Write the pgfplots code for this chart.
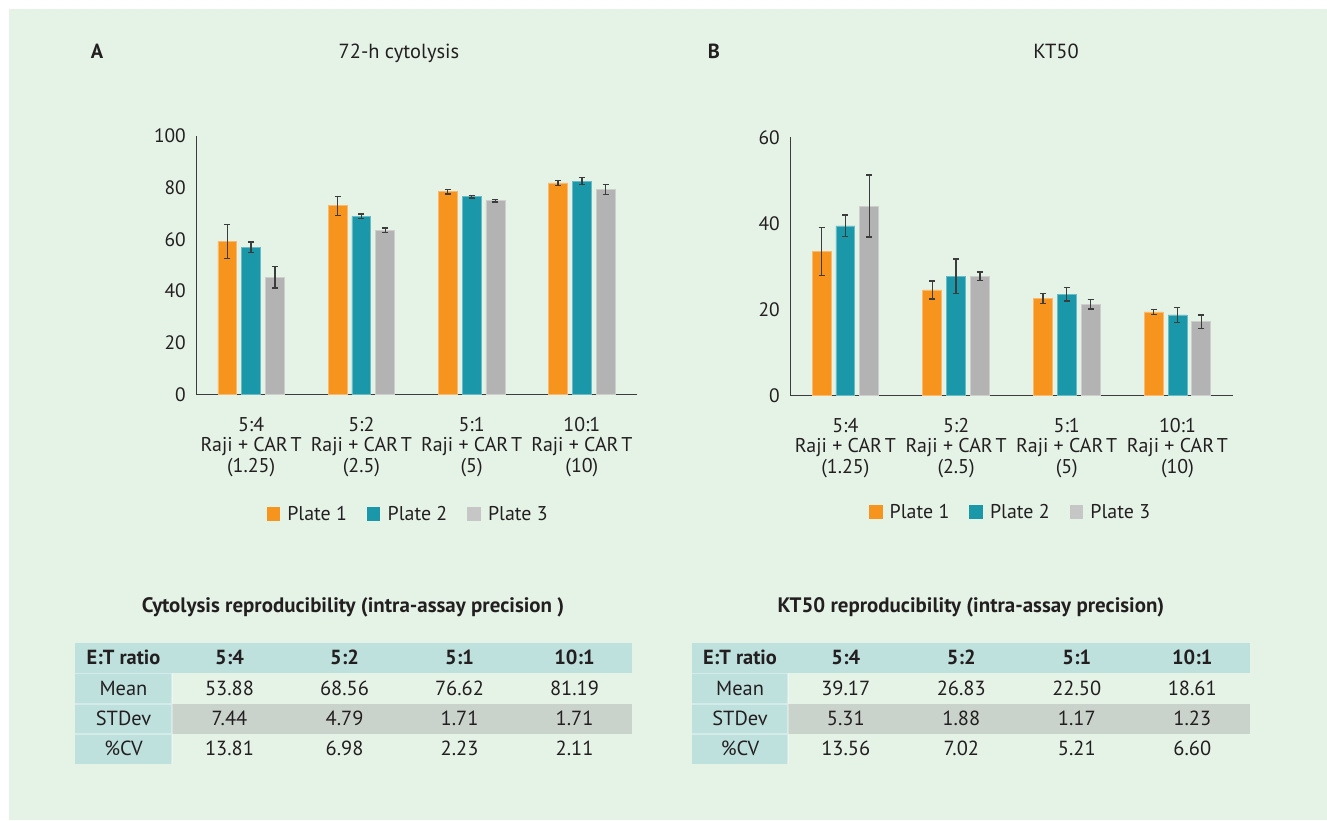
\documentclass[border=0pt]{standalone}
\usepackage{pgfplots}
\pgfplotsset{compat=1.18}
\usepackage{pgfplotstable}
\usepackage{fontspec}
\setmainfont{PT Sans}
\definecolor{bg}{HTML}{E5F3E7}
\definecolor{porange}{HTML}{F7941E}
\definecolor{pteal}{HTML}{1A97A8}
\definecolor{pgray}{HTML}{B2B3B2}
\definecolor{hdr}{HTML}{BEE1DE}
\definecolor{rowgray}{HTML}{C9D3CC}
\definecolor{txt}{HTML}{231F20}
\definecolor{axcol}{HTML}{3C3C3C}
\newcommand\fs{\fontsize{20}{20.5}\selectfont}
\newcommand\fy{\fontsize{19.5}{20.5}\selectfont}
\newcommand\ft{\fontsize{20.5}{22}\selectfont}
\newcommand\ftt{\fontsize{21}{22}\selectfont}
\newcommand\cart{Raji + CAR\hspace{0.14em}T}

\pgfplotstableread{
x y e
0 59.1 6.6
1 73.0 3.7
2 78.4 0.85
3 81.8 1.1
}\cytA
\pgfplotstableread{
x y e
0 56.9 2.0
1 68.9 0.9
2 76.5 0.5
3 82.5 1.3
}\cytB
\pgfplotstableread{
x y e
0 45.3 4.2
1 63.5 0.9
2 75.0 0.5
3 79.2 1.9
}\cytC
\pgfplotstableread{
x y e
0 33.4 5.6
1 24.5 2.1
2 22.5 1.15
3 19.4 0.55
}\ktA
\pgfplotstableread{
x y e
0 39.4 2.5
1 27.7 4.0
2 23.5 1.55
3 18.7 1.75
}\ktB
\pgfplotstableread{
x y e
0 44.0 7.2
1 27.7 1.0
2 21.2 1.1
3 17.1 1.55
}\ktC

\pgfplotsset{
  barchart/.style={
    scale only axis, ybar=4.9bp, bar width=18.9bp,
    ymin=0, xmin=-0.5, xmax=3.5, enlargelimits=false,
    axis x line*=bottom, axis y line*=left,
    axis line style={-, draw=axcol, line width=1bp},
    major tick length=0pt, minor tick num=0,
    xtick={0,1,2,3},
    xticklabels={{5:4\\\cart\\(1.25)},{5:2\\\cart\\(2.5)},{5:1\\\cart\\(5)},{10:1\\\cart\\(10)}},
    xticklabel style={align=center, font=\fs, text=txt, inner sep=0pt, anchor=north, yshift=-22.5bp},
    yticklabel style={font=\fy, text=txt, inner sep=0pt, anchor=east, xshift=-10bp},
    /pgf/number format/assume math mode=true,
    legend columns=3,
    legend style={draw=none, fill=none, font=\fs, text=txt,
      /tikz/every even column/.append style={column sep=19bp},
      nodes={inner sep=1bp}},
    legend cell align=left,
    error bars/y dir=both, error bars/y explicit,
    error bars/error bar style={line width=1.3bp, draw=axcol},
    error bars/error mark options={rotate=90, mark size=3bp, line width=1.3bp, draw=axcol},
  },
}

\begin{document}
\begin{tikzpicture}[x=1bp,y=1bp]
\fill[white] (0,0) rectangle (1327,820);
\fill[bg] (9,0) rectangle (1327,811);

% titles
\node[anchor=base, font=\ft\bfseries, text=txt] at (97,761) {A};
\node[anchor=base, font=\ft, text=txt] at (399,761) {72-h cytolysis};
\node[anchor=base, font=\ft\bfseries, text=txt] at (714,761) {B};
\node[anchor=base, font=\ft, text=txt] at (1056,761) {KT50};

% chart A
\begin{axis}[barchart, at={(196bp,425.7bp)}, anchor=south west,
  width=441bp, height=258.3bp, ymax=100, ytick={0,20,40,60,80,100},
  legend style={at={(0.48,-0.463)}, anchor=center}]
\addplot[fill=porange, draw=porange!65!white, line width=0.7bp, legend image code/.code={\fill[porange] (0bp,-6bp) rectangle (12.5bp,6.5bp); \path (19bp,0bp);}] table[x=x,y=y,y error=e] {\cytA};
\addplot[fill=pteal, draw=pteal!65!white, line width=0.7bp, legend image code/.code={\fill[pteal] (0bp,-6bp) rectangle (12.5bp,6.5bp); \path (19bp,0bp);}] table[x=x,y=y,y error=e] {\cytB};
\addplot[fill=pgray, draw=pgray!65!white, line width=0.7bp, legend image code/.code={\fill[pgray!75!white] (0bp,-6bp) rectangle (12.5bp,6.5bp); \path (19bp,0bp);}] table[x=x,y=y,y error=e] {\cytC};
\legend{Plate 1, Plate 2, Plate 3}
\end{axis}

% chart B
\begin{axis}[barchart, at={(790bp,424.7bp)}, anchor=south west,
  width=442.8bp, height=258bp, ymax=60, ytick={0,20,40,60},
  legend style={at={(0.497,-0.452)}, anchor=center}]
\addplot[fill=porange, draw=porange!65!white, line width=0.7bp, legend image code/.code={\fill[porange] (0bp,-6bp) rectangle (12.5bp,6.5bp); \path (19bp,0bp);}] table[x=x,y=y,y error=e] {\ktA};
\addplot[fill=pteal, draw=pteal!65!white, line width=0.7bp, legend image code/.code={\fill[pteal] (0bp,-6bp) rectangle (12.5bp,6.5bp); \path (19bp,0bp);}] table[x=x,y=y,y error=e] {\ktB};
\addplot[fill=pgray, draw=pgray!65!white, line width=0.7bp, legend image code/.code={\fill[pgray!75!white] (0bp,-6bp) rectangle (12.5bp,6.5bp); \path (19bp,0bp);}] table[x=x,y=y,y error=e] {\ktC};
\legend{Plate 1, Plate 2, Plate 3}
\end{axis}

% table titles
\node[anchor=base, font=\ftt\bfseries, text=txt] at (353,207) {Cytolysis reproducibility (intra-assay precision )};
\node[anchor=base, font=\ftt\bfseries, text=txt] at (971,207) {KT50 reproducibility (intra-assay precision)};

% table A
\fill[hdr] (75,146.7) rectangle (632,176.7);
\fill[hdr] (75,56) rectangle (172,146.7);
\fill[rowgray] (172,86) rectangle (632,116);
\draw[white, opacity=0.35, line width=1.2bp] (75,146.7) -- (172,146.7) (75,116) -- (172,116) (75,86) -- (172,86) (172,56) -- (172,146.7);
\node[anchor=base, font=\ft\bfseries, text=txt] at (123.5,155.2) {E:T ratio};
\node[anchor=base, font=\ft, text=txt] at (123.5,124.8) {Mean};
\node[anchor=base, font=\ft, text=txt] at (123.5,94.5) {STDev};
\node[anchor=base, font=\ft, text=txt] at (123.5,64.5) {\%CV};
\foreach \h/\m/\s/\v [count=\i from 0] in {5:4/53.88/7.44/13.81, 5:2/68.56/4.79/6.98, 5:1/76.62/1.71/2.23, 10:1/81.19/1.71/2.11} {
  \pgfmathsetmacro\cx{229.5+115*\i}
  \node[anchor=base, font=\ft\bfseries, text=txt] at (\cx,155.2) {\h};
  \node[anchor=base, font=\ft, text=txt] at (\cx,124.8) {\m};
  \node[anchor=base, font=\ft, text=txt] at (\cx,94.5) {\s};
  \node[anchor=base, font=\ft, text=txt] at (\cx,64.5) {\v};
}

% table B
\fill[hdr] (692,146.7) rectangle (1250,176.7);
\fill[hdr] (692,56) rectangle (788,146.7);
\fill[rowgray] (788,86) rectangle (1250,116);
\draw[white, opacity=0.35, line width=1.2bp] (692,146.7) -- (788,146.7) (692,116) -- (788,116) (692,86) -- (788,86) (788,56) -- (788,146.7);
\node[anchor=base, font=\ft\bfseries, text=txt] at (740,155.2) {E:T ratio};
\node[anchor=base, font=\ft, text=txt] at (740,124.8) {Mean};
\node[anchor=base, font=\ft, text=txt] at (740,94.5) {STDev};
\node[anchor=base, font=\ft, text=txt] at (740,64.5) {\%CV};
\foreach \h/\m/\s/\v [count=\i from 0] in {5:4/39.17/5.31/13.56, 5:2/26.83/1.88/7.02, 5:1/22.50/1.17/5.21, 10:1/18.61/1.23/6.60} {
  \pgfmathsetmacro\cx{845.75+115.5*\i}
  \node[anchor=base, font=\ft\bfseries, text=txt] at (\cx,155.2) {\h};
  \node[anchor=base, font=\ft, text=txt] at (\cx,124.8) {\m};
  \node[anchor=base, font=\ft, text=txt] at (\cx,94.5) {\s};
  \node[anchor=base, font=\ft, text=txt] at (\cx,64.5) {\v};
}
\end{tikzpicture}
\end{document}
